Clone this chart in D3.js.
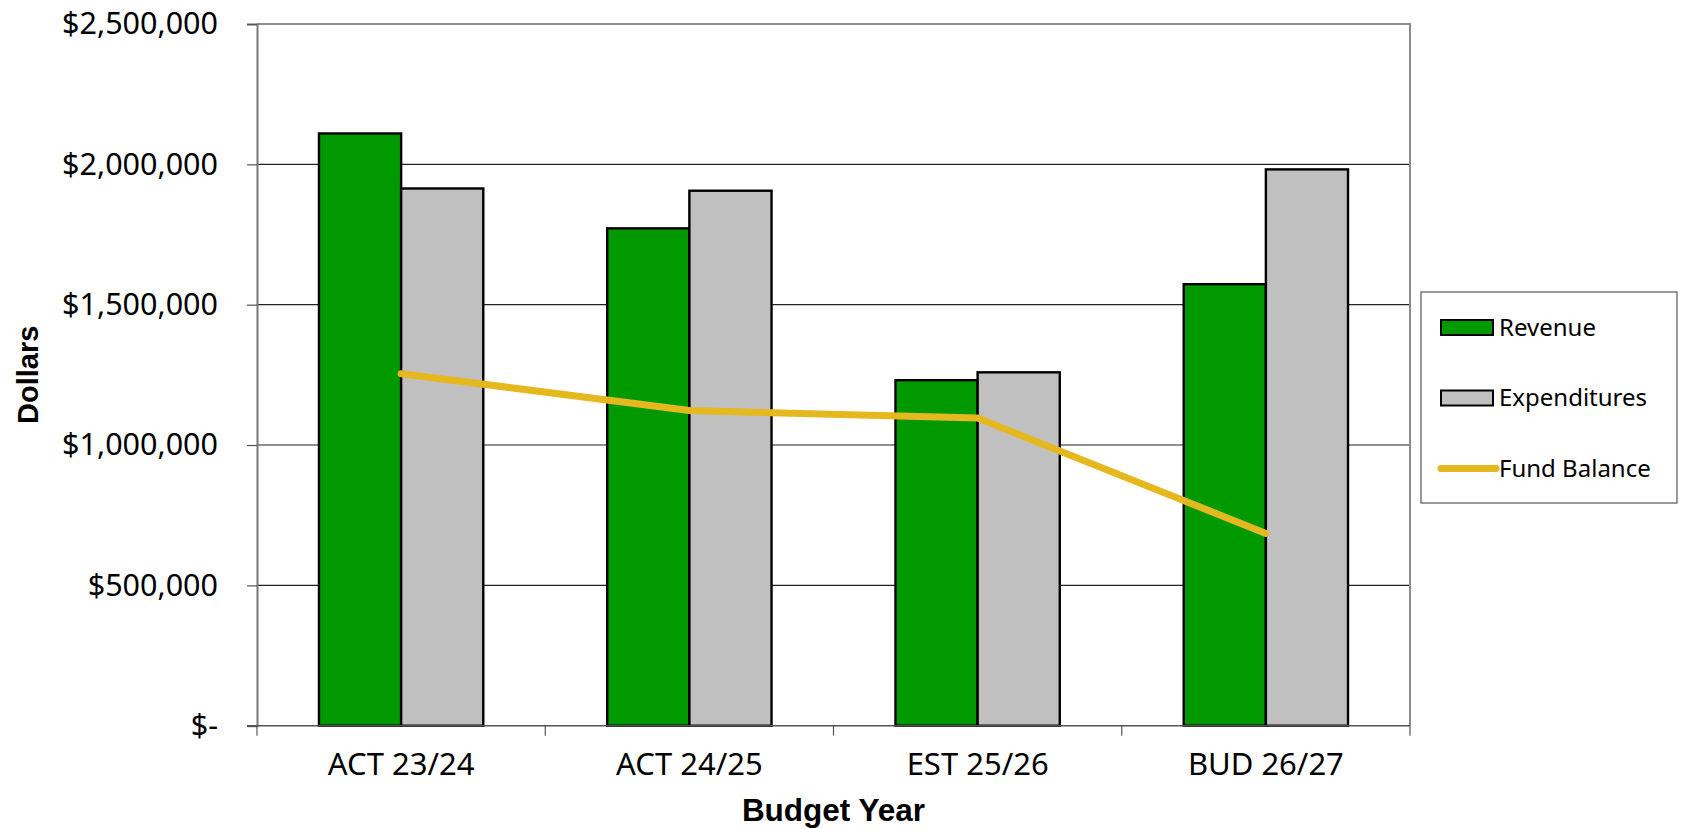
<!DOCTYPE html>
<html>
<head>
<meta charset="utf-8">
<script src="https://cdn.jsdelivr.net/npm/d3@7"></script>
<style>
  body { margin: 0; background: #fff; }
  svg { display: block; }
</style>
</head>
<body>
<div id="chart"></div>
<script>
const categories = ["ACT 23/24", "ACT 24/25", "EST 25/26", "BUD 26/27"];
const revenue = [2110000, 1772000, 1231000, 1573000];
const expenditures = [1914000, 1906000, 1259000, 1982000];
const fundBalance = [1254000, 1123000, 1096000, 685000];
const yTicks = [0, 500000, 1000000, 1500000, 2000000, 2500000];
const seriesNames = ["Revenue", "Expenditures"];

const width = 1681, height = 829;
const plot = { left: 257, right: 1410, top: 24, bottom: 725.7 };
const tickFont = "Tahoma, 'Noto Sans', sans-serif";
const titleFont = "Arial, 'Liberation Sans', sans-serif";
const colors = { Revenue: "#009900", Expenditures: "#c0c0c0", line: "#e6b81f" };

const svg = d3.select("#chart").append("svg")
  .attr("width", width)
  .attr("height", height);

const x = d3.scaleBand()
  .domain(categories)
  .range([plot.left, plot.right])
  .paddingInner(0.43)
  .paddingOuter(0.215);

const x1 = d3.scaleBand()
  .domain(seriesNames)
  .range([0, x.bandwidth()]);

const y = d3.scaleLinear()
  .domain([0, 2500000])
  .range([plot.bottom, plot.top]);

// gridlines (inner ones black, top one is the plot border)
svg.append("g")
  .selectAll("line")
  .data(yTicks.filter(d => d > 0 && d < 2500000))
  .join("line")
  .attr("x1", plot.left).attr("x2", plot.right)
  .attr("y1", d => y(d)).attr("y2", d => y(d))
  .attr("stroke", "#222")
  .attr("stroke-width", 1.2);

// plot border (top + right grey)
svg.append("path")
  .attr("d", `M${plot.left},${y(2500000)}H${plot.right}V${plot.bottom}`)
  .attr("fill", "none")
  .attr("stroke", "#8c8c8c")
  .attr("stroke-width", 2);

// bars
const groups = svg.append("g")
  .selectAll("g")
  .data(categories)
  .join("g")
  .attr("transform", d => `translate(${x(d)},0)`);

groups.selectAll("rect")
  .data((d, i) => [
    { key: "Revenue", value: revenue[i] },
    { key: "Expenditures", value: expenditures[i] }
  ])
  .join("rect")
  .attr("x", d => x1(d.key))
  .attr("y", d => y(d.value))
  .attr("width", x1.bandwidth())
  .attr("height", d => y(0) - y(d.value))
  .attr("fill", d => colors[d.key])
  .attr("stroke", "#000")
  .attr("stroke-width", 2.4);

// y axis
const yAxis = svg.append("g")
  .attr("transform", `translate(${plot.left},0)`)
  .call(d3.axisLeft(y)
    .tickValues(yTicks)
    .tickSize(10)
    .tickPadding(29)
    .tickFormat(d => d === 0 ? "$-" : "$" + d3.format(",")(d)));
yAxis.select(".domain").attr("stroke", "#777").attr("stroke-width", 2);
yAxis.selectAll(".tick line").attr("stroke", "#555").attr("stroke-width", 1.2);
yAxis.selectAll(".tick text")
  .attr("fill", "#000")
  .style("font-family", tickFont)
  .style("font-size", "30.5px");

// x axis: labels centred, ticks on category boundaries
const xAxis = svg.append("g")
  .attr("transform", `translate(0,${plot.bottom})`)
  .call(d3.axisBottom(x).tickSize(0).tickPadding(27).tickSizeOuter(0));
xAxis.select(".domain")
  .attr("d", `M${plot.left - 10},0H${plot.right}`)
  .attr("stroke", "#555")
  .attr("stroke-width", 1.5);
xAxis.selectAll(".tick text")
  .attr("fill", "#000")
  .style("font-family", tickFont)
  .style("font-size", "31px");
xAxis.selectAll(".boundary")
  .data(d3.range(categories.length + 1))
  .join("line")
  .attr("class", "boundary")
  .attr("x1", i => plot.left + i * x.step())
  .attr("x2", i => plot.left + i * x.step())
  .attr("y1", 0).attr("y2", 10)
  .attr("stroke", "#555")
  .attr("stroke-width", 1.2);

// fund balance line
const line = d3.line()
  .x((d, i) => x(categories[i]) + x.bandwidth() / 2)
  .y(d => y(d));

svg.append("path")
  .datum(fundBalance)
  .attr("d", line)
  .attr("fill", "none")
  .attr("stroke", colors.line)
  .attr("stroke-width", 7)
  .attr("stroke-linejoin", "round")
  .attr("stroke-linecap", "round");

// axis titles
svg.append("text")
  .attr("x", (plot.left + plot.right) / 2)
  .attr("y", 821)
  .attr("text-anchor", "middle")
  .style("font-family", titleFont)
  .style("font-weight", "bold")
  .style("font-size", "31.5px")
  .text("Budget Year");

svg.append("text")
  .attr("transform", `translate(38,${(plot.top + plot.bottom) / 2}) rotate(-90)`)
  .attr("text-anchor", "middle")
  .style("font-family", titleFont)
  .style("font-weight", "bold")
  .style("font-size", "29px")
  .text("Dollars");

// legend
const legend = svg.append("g").attr("transform", "translate(1421,292)");
legend.append("rect")
  .attr("width", 256).attr("height", 211)
  .attr("fill", "#fff")
  .attr("stroke", "#555")
  .attr("stroke-width", 1.2);

const legendItems = ["Revenue", "Expenditures", "Fund Balance"];
const item = legend.selectAll(".item")
  .data(legendItems)
  .join("g")
  .attr("class", "item")
  .attr("transform", (d, i) => `translate(0,${35.5 + i * 70.5})`);

item.filter(d => d !== "Fund Balance")
  .append("rect")
  .attr("x", 20).attr("y", -7.5)
  .attr("width", 52).attr("height", 15)
  .attr("fill", d => colors[d])
  .attr("stroke", "#000")
  .attr("stroke-width", 2);

item.filter(d => d === "Fund Balance")
  .append("line")
  .attr("x1", 20).attr("x2", 75)
  .attr("stroke", colors.line)
  .attr("stroke-width", 7)
  .attr("stroke-linecap", "round");

item.append("text")
  .attr("x", 78)
  .attr("y", 8)
  .style("font-family", tickFont)
  .style("font-size", "24px")
  .text(d => d);
</script>
</body>
</html>
